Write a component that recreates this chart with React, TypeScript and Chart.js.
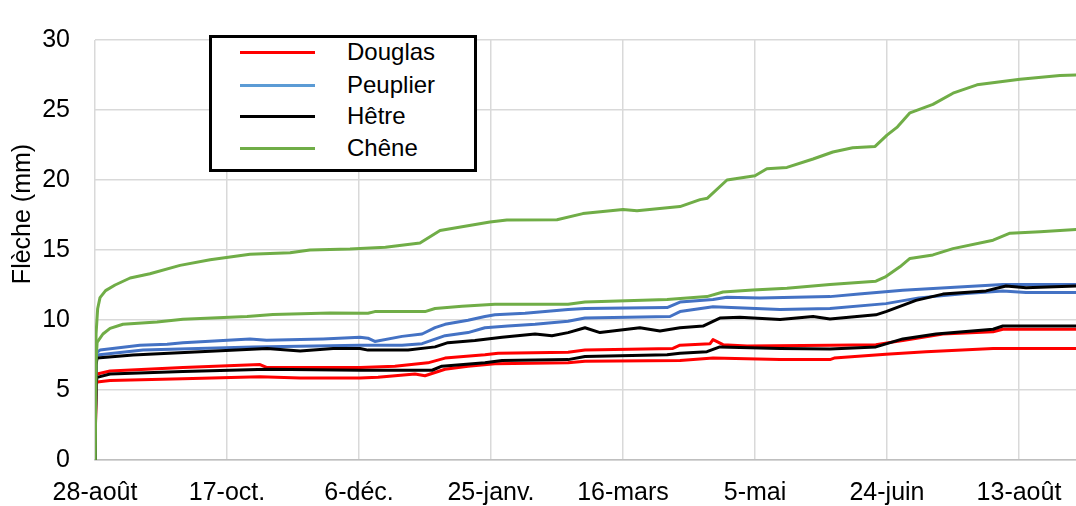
import React, { useEffect, useRef } from 'react';
import { Chart, registerables } from 'chart.js';

Chart.register(...registerables);

// ---- Data (x = days since 28-août, y = flèche in mm) ----
const tickDays = [0, 50, 100, 150, 200, 250, 300, 350];
const tickLabels = ['28-août', '17-oct.', '6-déc.', '25-janv.', '16-mars', '5-mai', '24-juin', '13-août'];
const xMaxDay = 371.6;
const yTitle = 'Flèche (mm)';

const species = ['Douglas', 'Peuplier', 'Hêtre', 'Chêne'];
const lineColors = ['#FF0000', '#4472C4', '#000000', '#70AD47'];
const legendColors = ['#FF0000', '#5B9BD5', '#000000', '#70AD47'];

const douglasA: number[][] = [
  [0, 0], [0.4, 5.8], [0.8, 6.14], [5.7, 6.36], [33.3, 6.6], [62.5, 6.82], [65.2, 6.6], [100.4, 6.6],
  [113.6, 6.7], [126.1, 6.94], [132.6, 7.28], [147.7, 7.51], [152.7, 7.63], [179.2, 7.7], [185.6, 7.85],
  [218.9, 7.97], [221.6, 8.2], [233, 8.31], [234.1, 8.6], [237.9, 8.24], [247, 8.15], [278.4, 8.2],
  [295.8, 8.24], [306, 8.54], [321.2, 9.0], [340.2, 9.16], [343.9, 9.34], [371.6, 9.34],
];
const douglasB: number[][] = [
  [0, 0], [0.4, 5.3], [0.8, 5.57], [5.7, 5.68], [33.3, 5.8], [62.5, 5.95], [77.7, 5.86], [100.4, 5.86],
  [107.2, 5.91], [121.2, 6.14], [125, 6.02], [132.6, 6.48], [141.3, 6.7], [151.5, 6.87], [179.2, 6.94],
  [185.6, 7.05], [221.6, 7.1], [234.1, 7.28], [259.5, 7.17], [278.4, 7.17], [280, 7.28], [299.6, 7.56],
  [314.8, 7.74], [340.2, 7.97], [371.6, 7.97],
];
const peuplierA: number[][] = [
  [0, 0], [0.4, 7.5], [0.8, 7.7], [1.9, 7.85], [17, 8.2], [27.3, 8.26], [33.3, 8.38], [58.7, 8.65],
  [65, 8.55], [86.4, 8.65], [100.4, 8.77], [103.4, 8.7], [106, 8.47], [116.3, 8.83], [123.9, 9.0],
  [128.8, 9.45], [132.6, 9.69], [141.3, 9.98], [147.7, 10.25], [151.5, 10.37], [162.9, 10.48],
  [170.5, 10.6], [179.2, 10.75], [185.6, 10.82], [216.7, 10.89], [221.6, 11.28], [234.1, 11.47],
  [239.4, 11.63], [251.9, 11.58], [278.4, 11.67], [289.4, 11.85], [306, 12.13], [327.3, 12.36],
  [343.9, 12.54], [371.6, 12.54],
];
const peuplierB: number[][] = [
  [0, 0], [0.4, 7.3], [0.8, 7.5], [18.2, 7.85], [59.8, 8.08], [100.4, 8.2], [116.3, 8.2], [123.9, 8.31],
  [132.6, 8.88], [141.3, 9.1], [147.7, 9.45], [156.4, 9.57], [166.7, 9.69], [179.2, 9.91], [185.6, 10.14],
  [217.8, 10.25], [221.6, 10.6], [234.1, 10.94], [259.5, 10.75], [278.4, 10.82], [299.6, 11.17],
  [312.1, 11.58], [329.9, 11.9], [343.9, 12.08], [352.7, 11.97], [371.6, 11.97],
];
const hetreA: number[][] = [
  [0, 0], [0.4, 6.8], [0.8, 7.28], [14.4, 7.5], [39.8, 7.74], [65.2, 7.97], [77.7, 7.78], [90.2, 7.97],
  [100.4, 7.97], [103.4, 7.85], [118.6, 7.85], [128.8, 8.08], [133.7, 8.38], [143.9, 8.54], [154.2, 8.77],
  [166.7, 9.0], [173.1, 8.88], [179.2, 9.1], [185.6, 9.45], [191.3, 9.1], [206.4, 9.45], [214, 9.22],
  [221.6, 9.45], [230.3, 9.57], [236.7, 10.14], [244.3, 10.2], [259.5, 10.03], [272, 10.25],
  [278.4, 10.07], [295.8, 10.37], [299.6, 10.6], [311, 11.4], [321.2, 11.85], [337.5, 12.08],
  [345.1, 12.43], [352.7, 12.31], [371.6, 12.43],
];
const hetreB: number[][] = [
  [0, 0], [0.4, 5.5], [0.8, 5.9], [5.7, 6.14], [33.3, 6.32], [65.2, 6.48], [100.4, 6.41], [127.7, 6.41],
  [131.4, 6.7], [147.7, 6.94], [154.2, 7.1], [179.2, 7.17], [185.6, 7.39], [216.7, 7.51], [221.6, 7.63],
  [231.8, 7.74], [236.7, 8.08], [259.5, 7.97], [278.4, 7.92], [295.8, 8.08], [306, 8.65], [318.6, 9.0],
  [340.2, 9.34], [343.9, 9.57], [371.6, 9.57],
];
const cheneA: number[][] = [
  [0, 0], [0.4, 9.0], [1, 10.8], [1.9, 11.6], [4, 12.1], [7.6, 12.5], [13.3, 13.0], [20.8, 13.3],
  [32.2, 13.9], [43.6, 14.3], [58.7, 14.7], [73.9, 14.8], [81.4, 15.0], [96.6, 15.07], [110, 15.2],
  [123.1, 15.5], [130.7, 16.4], [149.6, 17.0], [156, 17.15], [175, 17.16], [184.8, 17.6], [200, 17.9],
  [205.3, 17.8], [221.6, 18.1], [229.2, 18.6], [232, 18.7], [239.4, 20.0], [250, 20.3], [254.5, 20.8],
  [262.1, 20.9], [272, 21.5], [279.5, 22.0], [287, 22.3], [295.5, 22.4], [300, 23.2], [304, 23.8],
  [308.7, 24.8], [317.4, 25.4], [325, 26.2], [334.1, 26.8], [350.4, 27.2], [365.5, 27.47], [371.6, 27.5],
];
const cheneB: number[][] = [
  [0, 0], [0.4, 7.0], [0.8, 8.4], [3, 9.0], [5.7, 9.4], [10.6, 9.7], [23.5, 9.85], [33.3, 10.05],
  [57.6, 10.25], [67.4, 10.4], [89, 10.5], [103.4, 10.48], [106, 10.6], [125, 10.6], [128.8, 10.82],
  [139, 10.99], [151.5, 11.12], [179.2, 11.12], [185.6, 11.28], [216.7, 11.47], [231.8, 11.67],
  [237.9, 12.0], [249.2, 12.15], [262.1, 12.27], [278.4, 12.54], [295.8, 12.77], [299.6, 13.1],
  [304.9, 13.8], [308.7, 14.4], [317.4, 14.65], [325, 15.1], [340.2, 15.7], [346.6, 16.2], [358, 16.3],
  [371.6, 16.47],
];

const seriesBySpecies = [
  [douglasA, douglasB],
  [peuplierA, peuplierB],
  [hetreA, hetreB],
  [cheneA, cheneB],
];

const FONT = '"Liberation Sans", Arial, Helvetica, sans-serif';

const yTitlePlugin = {
  id: 'yTitleCustom',
  afterDraw(chart: any) {
    const ctx = chart.ctx;
    ctx.save();
    ctx.translate(23, 214);
    ctx.rotate(-Math.PI / 2);
    ctx.font = `25px ${FONT}`;
    ctx.fillStyle = '#000';
    ctx.textAlign = 'center';
    ctx.textBaseline = 'middle';
    ctx.fillText(yTitle, 0, 0);
    ctx.restore();
  },
};

export default function App() {
  const ref = useRef<HTMLCanvasElement | null>(null);

  useEffect(() => {
    if (!ref.current) return;
    // Excel draws later series on top; Chart.js draws index 0 on top -> reverse
    const datasets: any[] = [];
    for (let s = species.length - 1; s >= 0; s--) {
      seriesBySpecies[s].forEach((pts, k) => {
        datasets.push({
          label: `${species[s]} ${k + 1}`,
          data: pts.map(([x, y]) => ({ x, y })),
          borderColor: lineColors[s],
          backgroundColor: lineColors[s],
          borderWidth: 3,
          pointRadius: 0,
          tension: 0,
          fill: false,
          borderJoinStyle: 'round',
          borderCapStyle: 'round',
        });
      });
    }

    const chart = new Chart(ref.current, {
      type: 'line',
      data: { datasets },
      options: {
        animation: false,
        responsive: false,
        devicePixelRatio: 1,
        layout: { padding: { top: 22, right: 0, left: 0, bottom: 0 } },
        plugins: { legend: { display: false }, tooltip: { enabled: false } },
        scales: {
          x: {
            type: 'linear',
            min: 0,
            max: xMaxDay,
            afterBuildTicks: (scale: any) => {
              scale.ticks = tickDays.map((v) => ({ value: v }));
            },
            afterFit: (scale: any) => {
              scale.height = 46;
              scale.paddingRight = 0;
              scale.paddingLeft = 0;
            },
            ticks: {
              autoSkip: false,
              maxRotation: 0,
              padding: 18,
              color: '#000',
              font: { family: FONT, size: 25 },
              callback: (v: any) => {
                const i = tickDays.indexOf(Number(v));
                return i >= 0 ? tickLabels[i] : '';
              },
            },
            grid: { color: '#d9d9d9', lineWidth: 1.5, drawTicks: false },
            border: { display: true, color: '#bfbfbf', width: 1.5 },
          },
          y: {
            type: 'linear',
            min: 0,
            max: 30,
            afterFit: (scale: any) => {
              scale.width = 95;
            },
            ticks: {
              stepSize: 5,
              padding: 25,
              color: '#000',
              font: { family: FONT, size: 25 },
            },
            grid: { color: '#d9d9d9', lineWidth: 1.5, drawTicks: false },
            border: { display: false },
          },
        },
      },
      plugins: [yTitlePlugin],
    });
    return () => chart.destroy();
  }, []);

  const rowCenters = [52, 85, 116, 148];

  return (
    <div style={{ position: 'absolute', left: 0, top: 0, width: 1076, height: 506, background: '#fff' }}>
      <canvas ref={ref} width={1076} height={506} style={{ display: 'block' }} />
      <div
        style={{
          position: 'absolute',
          left: 209,
          top: 35,
          width: 268,
          height: 137,
          boxSizing: 'border-box',
          border: '3px solid #000',
          background: '#fff',
        }}
      />
      {species.map((name, i) => (
        <React.Fragment key={name}>
          <div
            style={{
              position: 'absolute',
              left: 240,
              top: rowCenters[i] - 1.5,
              width: 75,
              height: 3,
              background: legendColors[i],
            }}
          />
          <div
            style={{
              position: 'absolute',
              left: 347,
              top: rowCenters[i] - 14,
              fontFamily: FONT,
              fontSize: 24,
              lineHeight: '28px',
              color: '#000',
              whiteSpace: 'nowrap',
            }}
          >
            {name}
          </div>
        </React.Fragment>
      ))}
    </div>
  );
}
